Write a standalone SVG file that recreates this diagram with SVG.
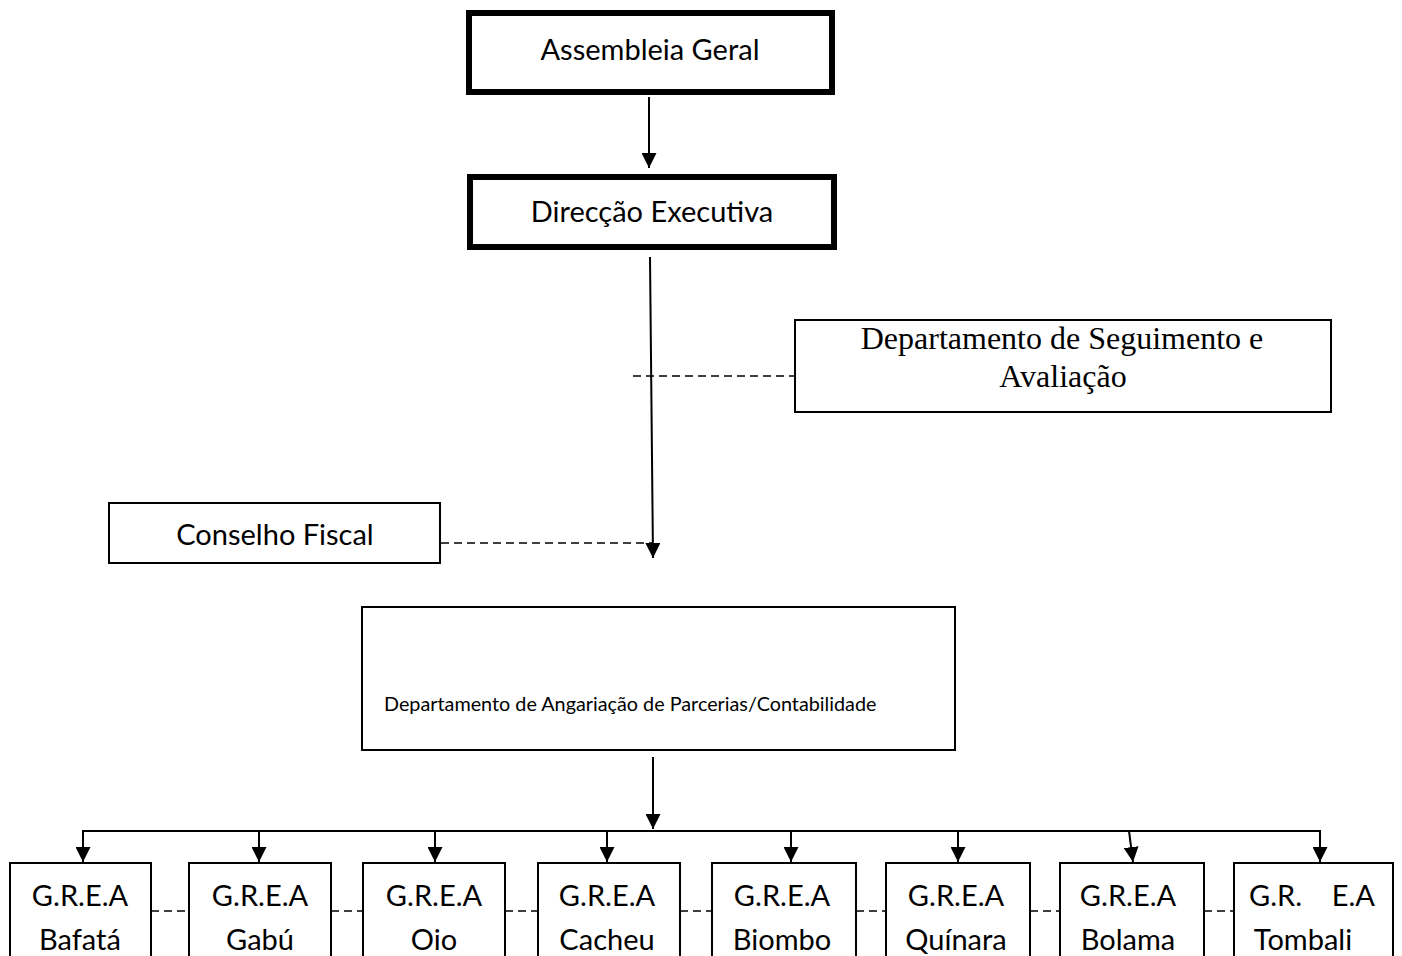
<svg xmlns="http://www.w3.org/2000/svg" width="1402" height="956" viewBox="0 0 1402 956">
<style>
.thick{fill:#fff;stroke:#000;stroke-width:6}
.box{fill:#fff;stroke:#000;stroke-width:2}
.t{font-family:Lato,"Open Sans",sans-serif;fill:#000;text-anchor:middle;font-size:29px}
.s{font-family:"Liberation Serif","Times New Roman",serif;fill:#000;text-anchor:middle;font-size:32px}
.ln{stroke:#000;stroke-width:2;fill:none}
.dash{stroke:#000;stroke-width:1.6;fill:none;stroke-dasharray:8 5}
</style>
<defs>
<marker id="ah" viewBox="0 0 10 10" refX="10" refY="5" markerWidth="7.5" markerHeight="7.5" markerUnits="strokeWidth" orient="auto">
<path d="M0,0 L10,5 L0,10 z" fill="#000"/>
</marker>
</defs>
<rect width="1402" height="956" fill="#fff"/>
<g id="connectors">
<line class="ln" x1="649" y1="97" x2="649" y2="168" marker-end="url(#ah)"/>
<line class="ln" x1="650" y1="257" x2="653" y2="558" marker-end="url(#ah)"/>
<line class="dash" x1="633" y1="376" x2="795" y2="376"/>
<line class="dash" x1="441" y1="543" x2="652" y2="543"/>
<line class="ln" x1="653" y1="757" x2="653" y2="829" marker-end="url(#ah)"/>
<polyline class="ln" points="83,845 83,831 1320,831 1320,845"/>
<line class="ln" x1="83" y1="840" x2="83" y2="862" marker-end="url(#ah)"/>
<line class="ln" x1="1320" y1="840" x2="1320" y2="862" marker-end="url(#ah)"/>
<line class="ln" x1="259" y1="831" x2="259" y2="862" marker-end="url(#ah)"/>
<line class="ln" x1="435" y1="831" x2="435" y2="862" marker-end="url(#ah)"/>
<line class="ln" x1="607" y1="831" x2="607" y2="862" marker-end="url(#ah)"/>
<line class="ln" x1="791" y1="831" x2="791" y2="862" marker-end="url(#ah)"/>
<line class="ln" x1="958" y1="831" x2="958" y2="862" marker-end="url(#ah)"/>
<line class="ln" x1="1129" y1="831" x2="1133" y2="862" marker-end="url(#ah)"/>
<line class="dash" x1="151" y1="911" x2="189" y2="911"/>
<line class="dash" x1="331" y1="911" x2="363" y2="911"/>
<line class="dash" x1="505" y1="911" x2="538" y2="911"/>
<line class="dash" x1="680" y1="911" x2="712" y2="911"/>
<line class="dash" x1="856" y1="911" x2="886" y2="911"/>
<line class="dash" x1="1030" y1="911" x2="1060" y2="911"/>
<line class="dash" x1="1204" y1="911" x2="1234" y2="911"/>
</g>
<g id="assembleia">
<rect class="thick" x="469" y="13" width="363" height="79"/>
<text class="t" x="650" y="60">Assembleia Geral</text>
</g>
<g id="direccao">
<rect class="thick" x="470" y="177" width="364" height="70"/>
<text class="t" x="652" y="222">Direcção Executiva</text>
</g>
<g id="seguimento">
<rect class="box" x="795" y="320" width="536" height="92"/>
<text class="s" x="1062" y="349">Departamento de Seguimento e</text>
<text class="s" x="1063" y="387">Avaliação</text>
</g>
<g id="conselho">
<rect class="box" x="109" y="503" width="331" height="60"/>
<text class="t" x="275" y="545">Conselho Fiscal</text>
</g>
<g id="angariacao">
<rect class="box" x="362" y="607" width="593" height="143"/>
<text class="t" x="384" y="711" style="text-anchor:start;font-size:19.8px">Departamento de Angariação de Parcerias/Contabilidade</text>
</g>
<g id="grea-bafata">
<rect class="box" x="10" y="863" width="141" height="100"/>
<text class="t" x="80" y="906">G.R.E.A</text>
<text class="t" x="80" y="950">Bafatá</text>
</g>
<g id="grea-gabu">
<rect class="box" x="189" y="863" width="142" height="100"/>
<text class="t" x="260" y="906">G.R.E.A</text>
<text class="t" x="260" y="950">Gabú</text>
</g>
<g id="grea-oio">
<rect class="box" x="363" y="863" width="142" height="100"/>
<text class="t" x="434" y="906">G.R.E.A</text>
<text class="t" x="434" y="950">Oio</text>
</g>
<g id="grea-cacheu">
<rect class="box" x="538" y="863" width="142" height="100"/>
<text class="t" x="607" y="906">G.R.E.A</text>
<text class="t" x="607" y="950">Cacheu</text>
</g>
<g id="grea-biombo">
<rect class="box" x="712" y="863" width="144" height="100"/>
<text class="t" x="782" y="906">G.R.E.A</text>
<text class="t" x="782" y="950">Biombo</text>
</g>
<g id="grea-quinara">
<rect class="box" x="886" y="863" width="144" height="100"/>
<text class="t" x="956" y="906">G.R.E.A</text>
<text class="t" x="956" y="950">Quínara</text>
</g>
<g id="grea-bolama">
<rect class="box" x="1060" y="863" width="144" height="100"/>
<text class="t" x="1128" y="906">G.R.E.A</text>
<text class="t" x="1128" y="950">Bolama</text>
</g>
<g id="grea-tombali">
<rect class="box" x="1234" y="863" width="159" height="100"/>
<text class="t" x="1312" y="906" xml:space="preserve">G.R.    E.A</text>
<text class="t" x="1303" y="950">Tombali</text>
</g>
</svg>
